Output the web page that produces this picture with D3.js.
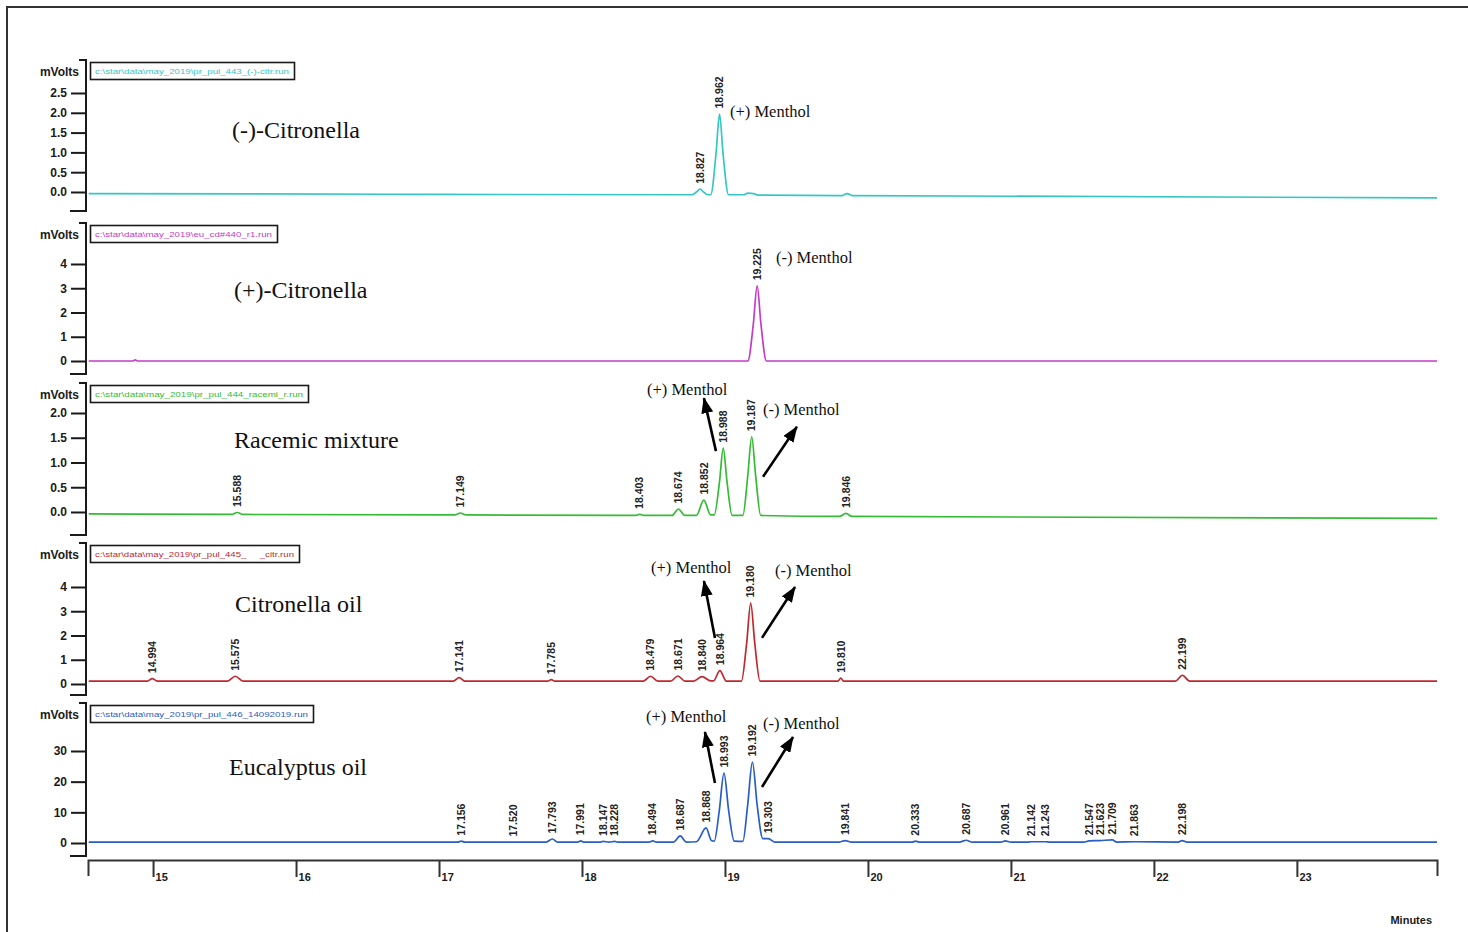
<!DOCTYPE html>
<html>
<head>
<meta charset="utf-8">
<script src="https://cdn.jsdelivr.net/npm/d3@7"></script>
<style>
  html, body { margin: 0; background: #fff; }
  svg { display: block; }
</style>
</head>
<body>
<svg id="chart" width="1468" height="932"></svg>
<script>
// ---- Retention-time axis ----
const timeDomain = [14.545, 23.98];
const xTicks = [15, 16, 17, 18, 19, 20, 21, 22, 23];

// ---- Chromatogram traces: [retention time (min), signal (mV)] ----
const traceCitrMinus = [
  [14.55, -0.04], [17.0, -0.06], [18.77, -0.07],
  [18.80, 0.0], [18.827, 0.07], [18.85, 0.0], [18.88, -0.07],
  [18.90, -0.07], [18.937, 0.95], [18.962, 1.97], [18.987, 0.95], [19.025, -0.07],
  [19.13, -0.07], [19.16, -0.03], [19.20, -0.04], [19.23, -0.08],
  [19.82, -0.09], [19.855, -0.04], [19.89, -0.09],
  [23.98, -0.15]
];
const traceCitrPlus = [
  [14.55, 0], [14.86, 0], [14.875, 0.05], [14.89, 0],
  [19.16, 0], [19.198, 1.5], [19.225, 3.1], [19.252, 1.5], [19.29, 0],
  [23.98, 0]
];
const traceRacemic = [
  [14.55, -0.04], [15.55, -0.05], [15.588, -0.01], [15.63, -0.05],
  [17.11, -0.06], [17.149, -0.02], [17.19, -0.06],
  [18.37, -0.07], [18.403, -0.05], [18.44, -0.07],
  [18.63, -0.07], [18.674, 0.06], [18.72, -0.07],
  [18.80, -0.07], [18.852, 0.24], [18.90, -0.06],
  [18.925, -0.06], [18.962, 0.62], [18.988, 1.29], [19.014, 0.62], [19.05, -0.07],
  [19.125, -0.07], [19.16, 0.75], [19.187, 1.52], [19.214, 0.75], [19.25, -0.07],
  [19.80, -0.09], [19.846, -0.03], [19.89, -0.09],
  [23.98, -0.13]
];
const traceCitrOil = [
  [14.55, 0.12], [14.96, 0.12], [14.994, 0.22], [15.03, 0.12],
  [15.52, 0.12], [15.575, 0.32], [15.63, 0.12],
  [17.10, 0.12], [17.141, 0.26], [17.18, 0.12],
  [17.76, 0.12], [17.785, 0.18], [17.81, 0.12],
  [18.43, 0.12], [18.479, 0.32], [18.53, 0.12],
  [18.62, 0.12], [18.671, 0.33], [18.72, 0.12],
  [18.78, 0.12], [18.840, 0.30], [18.90, 0.13],
  [18.92, 0.13], [18.964, 0.55], [19.01, 0.12],
  [19.115, 0.12], [19.152, 1.7], [19.180, 3.34], [19.208, 1.7], [19.245, 0.12],
  [19.79, 0.12], [19.81, 0.24], [19.83, 0.12],
  [22.15, 0.12], [22.199, 0.36], [22.25, 0.12],
  [23.98, 0.12]
];
const traceEucalyptus = [
  [14.55, 0.3], [17.13, 0.3], [17.156, 0.6], [17.18, 0.3],
  [17.52, 0.3],
  [17.75, 0.3], [17.793, 1.3], [17.83, 0.3],
  [17.97, 0.3], [17.991, 0.7], [18.01, 0.3],
  [18.13, 0.3], [18.147, 0.5], [18.19, 0.3], [18.228, 0.5], [18.25, 0.3],
  [18.47, 0.3], [18.494, 0.7], [18.52, 0.3],
  [18.64, 0.3], [18.687, 2.3], [18.73, 0.3],
  [18.80, 0.4], [18.868, 4.9], [18.905, 0.8],
  [18.925, 0.6], [18.96, 10.5], [18.993, 22.8], [19.026, 10.5], [19.065, 0.6],
  [19.125, 0.5], [19.158, 12], [19.192, 26.4], [19.226, 12], [19.265, 1.4], [19.303, 1.4], [19.35, 0.3],
  [19.80, 0.3], [19.841, 0.8], [19.88, 0.3],
  [20.31, 0.3], [20.333, 0.6], [20.36, 0.3],
  [20.64, 0.3], [20.687, 0.9], [20.73, 0.3],
  [20.93, 0.3], [20.961, 0.7], [21.0, 0.3],
  [21.12, 0.3], [21.142, 0.4], [21.243, 0.4], [21.27, 0.3],
  [21.51, 0.3], [21.547, 0.7], [21.623, 0.8], [21.709, 1.0], [21.74, 0.3],
  [21.863, 0.4],
  [22.17, 0.3], [22.198, 0.8], [22.23, 0.3],
  [23.98, 0.3]
];

// ---- Integrated peak retention times (labels) ----
const peaksCitrMinus = [18.827, 18.962];
const peaksCitrPlus = [19.225];
const peaksRacemic = [15.588, 17.149, 18.403, 18.674, 18.852, 18.988, 19.187, 19.846];
const peaksCitrOil = [14.994, 15.575, 17.141, 17.785, 18.479, 18.671, 18.840, 18.964, 19.180, 19.810, 22.199];
const peaksEucalyptus = [17.156, 17.520, 17.793, 17.991, 18.147, 18.228, 18.494, 18.687, 18.868,
  18.993, 19.192, 19.303, 19.841, 20.333, 20.687, 20.961, 21.142, 21.243, 21.547, 21.623, 21.709,
  21.863, 22.198];

// ---- Signal axis ticks ----
const ticksCitrMinus = [0, 0.5, 1.0, 1.5, 2.0, 2.5];
const ticksCitrPlus = [0, 1, 2, 3, 4];
const ticksRacemic = [0, 0.5, 1.0, 1.5, 2.0];
const ticksCitrOil = [0, 1, 2, 3, 4];
const ticksEucalyptus = [0, 10, 20, 30];

// ---- Sample names and run files ----
const sampleNames = ["(-)-Citronella", "(+)-Citronella", "Racemic mixture", "Citronella oil", "Eucalyptus oil"];
const runFiles = [
  "c:\\star\\data\\may_2019\\pr_pul_443_(-)-citr.run",
  "c:\\star\\data\\may_2019\\eu_cd#440_r1.run",
  "c:\\star\\data\\may_2019\\pr_pul_444_racemi_r.run",
  "c:\\star\\data\\may_2019\\pr_pul_445_     _citr.run",
  "c:\\star\\data\\may_2019\\pr_pul_446_14092019.run"
];

// ---- Menthol annotations (text anchor and arrows in time / mV) ----
const notesCitrMinus = [{ text: "(+) Menthol", t: 19.035, v: 1.89 }];
const notesCitrPlus = [{ text: "(-) Menthol", t: 19.357, v: 4.04 }];
const notesRacemic = [{ text: "(+) Menthol", t: 18.455, v: 2.36 }, { text: "(-) Menthol", t: 19.266, v: 1.96 }];
const notesCitrOil = [{ text: "(+) Menthol", t: 18.483, v: 4.58 }, { text: "(-) Menthol", t: 19.350, v: 4.45 }];
const notesEucalyptus = [{ text: "(+) Menthol", t: 18.448, v: 39.45 }, { text: "(-) Menthol", t: 19.266, v: 37.17 }];

const arrowsRacemic = [[18.937, 1.23, 18.853, 2.30], [19.266, 0.71, 19.503, 1.72]];
const arrowsCitrOil = [[18.930, 1.90, 18.853, 4.25], [19.259, 1.90, 19.490, 4.00]];
const arrowsEucalyptus = [[18.930, 19.56, 18.860, 36.19], [19.259, 18.26, 19.476, 34.56]];

// ---- Panel layout ----
const panels = [
  { trace: traceCitrMinus, peaks: peaksCitrMinus, ticks: ticksCitrMinus, fmt: ".1f", notes: notesCitrMinus, arrows: [],
    color: "#35c6c6", domain: [-0.48, 3.333], top: 60, bottom: 211, boxW: 204, titleX: 232, titleY: 138 },
  { trace: traceCitrPlus, peaks: peaksCitrPlus, ticks: ticksCitrPlus, fmt: "d", notes: notesCitrPlus, arrows: [],
    color: "#c43cc4", domain: [-0.536, 5.69], top: 223, bottom: 374, boxW: 187, titleX: 234, titleY: 298 },
  { trace: traceRacemic, peaks: peaksRacemic, ticks: ticksRacemic, fmt: ".1f", notes: notesRacemic, arrows: arrowsRacemic,
    color: "#35bb35", domain: [-0.465, 2.606], top: 383, bottom: 535, boxW: 218, titleX: 234, titleY: 448 },
  { trace: traceCitrOil, peaks: peaksCitrOil, ticks: ticksCitrOil, fmt: "d", notes: notesCitrOil, arrows: arrowsCitrOil,
    color: "#c0282e", domain: [-0.454, 5.814], top: 543, bottom: 695, boxW: 209, titleX: 235, titleY: 612 },
  { trace: traceEucalyptus, peaks: peaksEucalyptus, ticks: ticksEucalyptus, fmt: "d", notes: notesEucalyptus, arrows: arrowsEucalyptus,
    color: "#2a5ec4", domain: [-4.24, 45.65], top: 703, bottom: 856, boxW: 223, titleX: 229, titleY: 775 }
];

const svg = d3.select("#chart");
const axisX0 = 88, axisX1 = 1437, axisY = 860, yAxisX = 86;
const ink = "#1a1a1a";

const x = d3.scaleLinear().domain(timeDomain).range([axisX0, axisX1]);

// Outer frame
svg.append("path")
  .attr("d", "M7,932 V7 H1468")
  .attr("fill", "none").attr("stroke", "#333").attr("stroke-width", 2);

// Arrowhead
svg.append("defs").append("marker")
  .attr("id", "head").attr("markerUnits", "userSpaceOnUse")
  .attr("viewBox", "0 0 16 12").attr("refX", 15).attr("refY", 6)
  .attr("markerWidth", 16).attr("markerHeight", 12).attr("orient", "auto")
  .append("path").attr("d", "M0,0 L16,6 L0,12 Z").attr("fill", "#000");

const bisect = d3.bisector(d => d[0]).left;
function valueAt(trace, t) {
  const near = trace.filter(d => Math.abs(d[0] - t) <= 0.02);
  if (near.length) return d3.max(near, d => d[1]);
  const i = Math.max(1, Math.min(trace.length - 1, bisect(trace, t)));
  const a = trace[i - 1], b = trace[i];
  return a[1] + (b[1] - a[1]) * (t - a[0]) / (b[0] - a[0]);
}

panels.forEach((p, k) => {
  const y = d3.scaleLinear().domain(p.domain).range([p.bottom, p.top]);
  const g = svg.append("g");

  // Signal axis with bracket ends
  const ax = g.append("g").attr("transform", `translate(${yAxisX},0)`)
    .call(d3.axisLeft(y).tickValues(p.ticks).tickFormat(d3.format(p.fmt)).tickSize(15).tickPadding(4));
  ax.select(".domain").remove();
  ax.selectAll(".tick line").attr("stroke", ink).attr("stroke-width", 2);
  ax.selectAll(".tick text").attr("fill", ink)
    .style("font", "bold 12px 'Liberation Sans', Arial, sans-serif");
  g.append("path")
    .attr("d", `M${yAxisX - 7},${p.top} H${yAxisX} V${p.bottom} H${yAxisX - 16}`)
    .attr("fill", "none").attr("stroke", ink).attr("stroke-width", 2);

  g.append("text").attr("x", 79).attr("y", p.top + 16).attr("text-anchor", "end")
    .attr("fill", ink).style("font", "bold 12px 'Liberation Sans', Arial, sans-serif")
    .text("mVolts");

  // Run-file box
  g.append("rect").attr("x", 90.5).attr("y", p.top + 2.5).attr("width", p.boxW).attr("height", 17)
    .attr("fill", "#fff").attr("stroke", ink).attr("stroke-width", 1.6);
  g.append("text").attr("x", 95).attr("y", p.top + 14)
    .attr("textLength", p.boxW - 10).attr("lengthAdjust", "spacingAndGlyphs")
    .attr("fill", p.color).style("font", "8px 'Liberation Sans', Arial, sans-serif")
    .style("white-space", "pre")
    .text(runFiles[k]);

  // Trace
  g.append("path").datum(p.trace)
    .attr("d", d3.line().x(d => x(d[0])).y(d => y(d[1])).curve(d3.curveMonotoneX))
    .attr("fill", "none").attr("stroke", p.color).attr("stroke-width", 1.7);

  // Retention-time labels above each peak
  g.selectAll(".rt").data(p.peaks).join("text")
    .attr("class", "rt")
    .attr("transform", t => `translate(${x(t)},${y(valueAt(p.trace, t)) - 5.5}) rotate(-90)`)
    .attr("dy", "0.36em")
    .attr("fill", "#222")
    .style("font", "bold 10.5px 'Liberation Sans', Arial, sans-serif")
    .text(t => t.toFixed(3));

  // Sample name
  g.append("text").attr("x", p.titleX).attr("y", p.titleY)
    .attr("fill", "#111").style("font", "24px 'Liberation Serif', 'Times New Roman', serif")
    .text(sampleNames[k]);

  // Menthol annotations
  g.selectAll(".note").data(p.notes).join("text")
    .attr("class", "note")
    .attr("x", d => x(d.t)).attr("y", d => y(d.v))
    .attr("fill", "#111").style("font", "16.5px 'Liberation Serif', 'Times New Roman', serif")
    .text(d => d.text);
  g.selectAll(".arrow").data(p.arrows).join("line")
    .attr("class", "arrow")
    .attr("x1", d => x(d[0])).attr("y1", d => y(d[1]))
    .attr("x2", d => x(d[2])).attr("y2", d => y(d[3]))
    .attr("stroke", "#000").attr("stroke-width", 2.6)
    .attr("marker-end", "url(#head)");
});

// Time axis
const xa = svg.append("g").attr("transform", `translate(0,${axisY})`)
  .call(d3.axisBottom(x).tickValues(xTicks).tickFormat(d3.format("d")).tickSize(17).tickSizeOuter(16));
xa.select(".domain").attr("stroke", "#333").attr("stroke-width", 2);
xa.selectAll(".tick line").attr("stroke", "#333").attr("stroke-width", 2);
xa.selectAll(".tick text")
  .attr("text-anchor", "start").attr("x", 2).attr("y", 13).attr("dy", "0.71em")
  .attr("fill", ink).style("font", "bold 11px 'Liberation Sans', Arial, sans-serif");

svg.append("text").attr("x", 1432).attr("y", 924).attr("text-anchor", "end")
  .attr("fill", ink).style("font", "bold 11px 'Liberation Sans', Arial, sans-serif")
  .text("Minutes");
</script>
</body>
</html>
